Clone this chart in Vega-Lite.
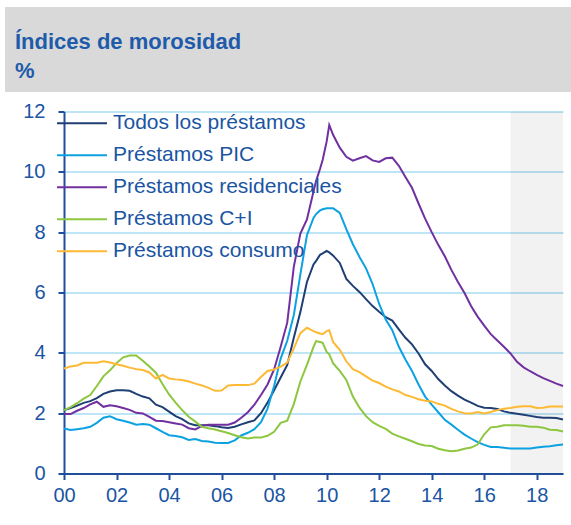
{
  "$schema": "https://vega.github.io/schema/vega-lite/v6.json",
  "background": "white",
  "padding": {"left": 5, "top": 7, "right": 0, "bottom": 0},
  "autosize": {"type": "pad"},
  "config": {"view": {"stroke": null}, "font": "Liberation Sans"},
  "spacing": 9.5,
  "vconcat": [
    {
      "width": 566,
      "height": 85,
      "view": {"fill": "#D9D9D9", "stroke": null},
      "data": {"values": [{"k": 1}]},
      "mark": {"type": "rect", "fill": "#D9D9D9"},
      "title": {
        "text": "Índices de morosidad",
        "subtitle": "%",
        "anchor": "start",
        "orient": "top",
        "frame": "group",
        "offset": -76,
        "dx": 10,
        "font": "Liberation Sans",
        "fontSize": 22,
        "fontWeight": "bold",
        "color": "#1E5BAA",
        "subtitleFont": "Liberation Sans",
        "subtitleFontSize": 22,
        "subtitleFontWeight": "bold",
        "subtitleColor": "#1E5BAA",
        "subtitlePadding": 7
      }
    },
    {
      "spacing": 0,
      "hconcat": [
        {
          "width": 1,
          "height": 1,
          "data": {"values": []},
          "mark": {"type": "point", "opacity": 0}
        },
        {
          "width": 499,
          "height": 362,
          "layer": [
            {
              "data": {"values": [{"inicio": 2017, "fin": 2019}]},
              "mark": {"type": "rect", "fill": "#000000", "opacity": 0.05},
              "encoding": {
                "x": {"field": "inicio", "type": "quantitative", "scale": {"domain": [2000, 2019]}},
                "x2": {"field": "fin"}
              }
            },
            {
              "data": {"values": [
                {"t": 2000.00, "todos": 2.10, "pic": 1.49, "res": 1.97, "ci": 2.10, "cons": 3.48},
                {"t": 2000.25, "todos": 2.17, "pic": 1.44, "res": 1.97, "ci": 2.20, "cons": 3.55},
                {"t": 2000.50, "todos": 2.25, "pic": 1.47, "res": 2.08, "ci": 2.33, "cons": 3.58},
                {"t": 2000.75, "todos": 2.34, "pic": 1.50, "res": 2.17, "ci": 2.48, "cons": 3.67},
                {"t": 2001.00, "todos": 2.40, "pic": 1.55, "res": 2.29, "ci": 2.60, "cons": 3.67},
                {"t": 2001.25, "todos": 2.50, "pic": 1.68, "res": 2.38, "ci": 2.90, "cons": 3.67},
                {"t": 2001.50, "todos": 2.64, "pic": 1.85, "res": 2.21, "ci": 3.22, "cons": 3.72},
                {"t": 2001.75, "todos": 2.72, "pic": 1.90, "res": 2.26, "ci": 3.42, "cons": 3.68},
                {"t": 2002.00, "todos": 2.76, "pic": 1.80, "res": 2.23, "ci": 3.66, "cons": 3.62},
                {"t": 2002.25, "todos": 2.76, "pic": 1.75, "res": 2.17, "ci": 3.85, "cons": 3.57},
                {"t": 2002.50, "todos": 2.74, "pic": 1.69, "res": 2.11, "ci": 3.91, "cons": 3.51},
                {"t": 2002.75, "todos": 2.64, "pic": 1.62, "res": 2.01, "ci": 3.91, "cons": 3.46},
                {"t": 2003.00, "todos": 2.55, "pic": 1.64, "res": 1.99, "ci": 3.74, "cons": 3.43},
                {"t": 2003.25, "todos": 2.49, "pic": 1.62, "res": 1.88, "ci": 3.55, "cons": 3.35},
                {"t": 2003.50, "todos": 2.28, "pic": 1.50, "res": 1.75, "ci": 3.34, "cons": 3.15},
                {"t": 2003.75, "todos": 2.20, "pic": 1.38, "res": 1.74, "ci": 2.97, "cons": 3.27},
                {"t": 2004.00, "todos": 2.05, "pic": 1.27, "res": 1.70, "ci": 2.62, "cons": 3.15},
                {"t": 2004.25, "todos": 1.90, "pic": 1.24, "res": 1.66, "ci": 2.35, "cons": 3.12},
                {"t": 2004.50, "todos": 1.80, "pic": 1.20, "res": 1.62, "ci": 2.10, "cons": 3.10},
                {"t": 2004.75, "todos": 1.66, "pic": 1.11, "res": 1.50, "ci": 1.88, "cons": 3.05},
                {"t": 2005.00, "todos": 1.60, "pic": 1.14, "res": 1.46, "ci": 1.72, "cons": 2.98},
                {"t": 2005.25, "todos": 1.60, "pic": 1.08, "res": 1.58, "ci": 1.55, "cons": 2.92},
                {"t": 2005.50, "todos": 1.60, "pic": 1.06, "res": 1.62, "ci": 1.50, "cons": 2.84},
                {"t": 2005.75, "todos": 1.57, "pic": 1.02, "res": 1.62, "ci": 1.46, "cons": 2.74},
                {"t": 2006.00, "todos": 1.53, "pic": 1.01, "res": 1.62, "ci": 1.40, "cons": 2.75},
                {"t": 2006.25, "todos": 1.51, "pic": 1.01, "res": 1.62, "ci": 1.34, "cons": 2.92},
                {"t": 2006.50, "todos": 1.55, "pic": 1.10, "res": 1.69, "ci": 1.27, "cons": 2.93},
                {"t": 2006.75, "todos": 1.63, "pic": 1.26, "res": 1.85, "ci": 1.20, "cons": 2.93},
                {"t": 2007.00, "todos": 1.70, "pic": 1.35, "res": 2.03, "ci": 1.16, "cons": 2.93},
                {"t": 2007.25, "todos": 1.76, "pic": 1.47, "res": 2.28, "ci": 1.19, "cons": 2.98},
                {"t": 2007.50, "todos": 2.00, "pic": 1.70, "res": 2.60, "ci": 1.19, "cons": 3.20},
                {"t": 2007.75, "todos": 2.35, "pic": 2.15, "res": 2.95, "ci": 1.25, "cons": 3.40},
                {"t": 2008.00, "todos": 2.76, "pic": 2.90, "res": 3.45, "ci": 1.38, "cons": 3.45},
                {"t": 2008.25, "todos": 3.18, "pic": 3.81, "res": 4.20, "ci": 1.68, "cons": 3.54},
                {"t": 2008.50, "todos": 3.60, "pic": 4.40, "res": 5.00, "ci": 1.75, "cons": 3.68},
                {"t": 2008.75, "todos": 4.50, "pic": 5.25, "res": 6.85, "ci": 2.30, "cons": 4.15},
                {"t": 2009.00, "todos": 5.35, "pic": 6.60, "res": 7.95, "ci": 3.05, "cons": 4.65},
                {"t": 2009.25, "todos": 6.35, "pic": 7.90, "res": 8.42, "ci": 3.60, "cons": 4.83},
                {"t": 2009.50, "todos": 6.93, "pic": 8.47, "res": 9.35, "ci": 4.20, "cons": 4.72},
                {"t": 2009.60, "todos": 7.05, "pic": 8.60, "res": 9.70, "ci": 4.39, "cons": 4.68},
                {"t": 2009.75, "todos": 7.25, "pic": 8.72, "res": 10.10, "ci": 4.36, "cons": 4.64},
                {"t": 2009.85, "todos": 7.30, "pic": 8.76, "res": 10.40, "ci": 4.33, "cons": 4.62},
                {"t": 2010.00, "todos": 7.38, "pic": 8.79, "res": 11.00, "ci": 4.03, "cons": 4.72},
                {"t": 2010.10, "todos": 7.33, "pic": 8.79, "res": 11.55, "ci": 3.95, "cons": 4.75},
                {"t": 2010.25, "todos": 7.22, "pic": 8.79, "res": 11.22, "ci": 3.65, "cons": 4.35},
                {"t": 2010.50, "todos": 6.98, "pic": 8.64, "res": 10.80, "ci": 3.40, "cons": 4.10},
                {"t": 2010.75, "todos": 6.45, "pic": 8.10, "res": 10.50, "ci": 3.10, "cons": 3.72},
                {"t": 2011.00, "todos": 6.22, "pic": 7.60, "res": 10.37, "ci": 2.55, "cons": 3.46},
                {"t": 2011.25, "todos": 6.02, "pic": 7.18, "res": 10.45, "ci": 2.18, "cons": 3.36},
                {"t": 2011.50, "todos": 5.78, "pic": 6.80, "res": 10.52, "ci": 1.90, "cons": 3.22},
                {"t": 2011.75, "todos": 5.55, "pic": 6.28, "res": 10.38, "ci": 1.70, "cons": 3.08},
                {"t": 2012.00, "todos": 5.36, "pic": 5.62, "res": 10.33, "ci": 1.58, "cons": 3.00},
                {"t": 2012.25, "todos": 5.18, "pic": 5.10, "res": 10.45, "ci": 1.48, "cons": 2.88},
                {"t": 2012.50, "todos": 5.07, "pic": 4.75, "res": 10.47, "ci": 1.32, "cons": 2.79},
                {"t": 2012.75, "todos": 4.78, "pic": 4.20, "res": 10.20, "ci": 1.23, "cons": 2.72},
                {"t": 2013.00, "todos": 4.50, "pic": 3.78, "res": 9.83, "ci": 1.15, "cons": 2.60},
                {"t": 2013.25, "todos": 4.28, "pic": 3.40, "res": 9.47, "ci": 1.07, "cons": 2.54},
                {"t": 2013.50, "todos": 3.98, "pic": 2.95, "res": 8.95, "ci": 0.98, "cons": 2.46},
                {"t": 2013.75, "todos": 3.62, "pic": 2.55, "res": 8.45, "ci": 0.93, "cons": 2.41},
                {"t": 2014.00, "todos": 3.40, "pic": 2.28, "res": 8.00, "ci": 0.91, "cons": 2.39},
                {"t": 2014.25, "todos": 3.13, "pic": 2.03, "res": 7.58, "ci": 0.82, "cons": 2.31},
                {"t": 2014.50, "todos": 2.92, "pic": 1.78, "res": 7.20, "ci": 0.77, "cons": 2.25},
                {"t": 2014.75, "todos": 2.73, "pic": 1.62, "res": 6.75, "ci": 0.74, "cons": 2.14},
                {"t": 2015.00, "todos": 2.58, "pic": 1.45, "res": 6.35, "ci": 0.76, "cons": 2.06},
                {"t": 2015.25, "todos": 2.45, "pic": 1.29, "res": 5.98, "ci": 0.82, "cons": 2.00},
                {"t": 2015.50, "todos": 2.35, "pic": 1.16, "res": 5.55, "ci": 0.86, "cons": 1.99},
                {"t": 2015.75, "todos": 2.24, "pic": 1.04, "res": 5.20, "ci": 0.96, "cons": 2.04},
                {"t": 2016.00, "todos": 2.18, "pic": 0.95, "res": 4.90, "ci": 1.30, "cons": 1.99},
                {"t": 2016.25, "todos": 2.17, "pic": 0.88, "res": 4.62, "ci": 1.53, "cons": 2.04},
                {"t": 2016.50, "todos": 2.14, "pic": 0.88, "res": 4.41, "ci": 1.55, "cons": 2.10},
                {"t": 2016.75, "todos": 2.06, "pic": 0.85, "res": 4.20, "ci": 1.60, "cons": 2.15},
                {"t": 2017.00, "todos": 2.01, "pic": 0.83, "res": 3.98, "ci": 1.60, "cons": 2.17},
                {"t": 2017.25, "todos": 1.98, "pic": 0.83, "res": 3.70, "ci": 1.60, "cons": 2.21},
                {"t": 2017.50, "todos": 1.95, "pic": 0.83, "res": 3.52, "ci": 1.58, "cons": 2.23},
                {"t": 2017.75, "todos": 1.91, "pic": 0.83, "res": 3.39, "ci": 1.55, "cons": 2.23},
                {"t": 2018.00, "todos": 1.87, "pic": 0.86, "res": 3.27, "ci": 1.55, "cons": 2.17},
                {"t": 2018.25, "todos": 1.85, "pic": 0.89, "res": 3.16, "ci": 1.52, "cons": 2.18},
                {"t": 2018.50, "todos": 1.85, "pic": 0.90, "res": 3.07, "ci": 1.45, "cons": 2.22},
                {"t": 2018.75, "todos": 1.84, "pic": 0.94, "res": 2.98, "ci": 1.44, "cons": 2.22},
                {"t": 2019.00, "todos": 1.79, "pic": 0.96, "res": 2.90, "ci": 1.39, "cons": 2.22}
              ]},
              "transform": [
                {"fold": ["todos", "pic", "res", "ci", "cons"], "as": ["serie", "valor"]}
              ],
              "mark": {"type": "line", "strokeWidth": 2},
              "encoding": {
                "x": {
                  "field": "t",
                  "type": "quantitative",
                  "scale": {"domain": [2000, 2019], "nice": false, "zero": false},
                  "axis": {
                    "title": null,
                    "values": [2000, 2002, 2004, 2006, 2008, 2010, 2012, 2014, 2016, 2018],
                    "format": "d",
                    "labelExpr": "substring(datum.label, 2, 4)",
                    "grid": false,
                    "domainColor": "#1F4E9C",
                    "domainWidth": 2,
                    "tickColor": "#1F4E9C",
                    "tickWidth": 2,
                    "tickSize": 6,
                    "labelColor": "#1A55A3",
                    "labelFont": "Liberation Sans",
                    "labelFontSize": 20,
                    "labelPadding": 6,
                    "labelFlush": false,
                    "labelOverlap": false
                  }
                },
                "y": {
                  "field": "valor",
                  "type": "quantitative",
                  "scale": {"domain": [0, 12], "nice": false},
                  "axis": {
                    "title": null,
                    "values": [0, 2, 4, 6, 8, 10, 12],
                    "grid": true,
                    "gridColor": "#BDE5F5",
                    "gridWidth": 2,
                    "domainColor": "#1F4E9C",
                    "domainWidth": 2,
                    "tickColor": "#1F4E9C",
                    "tickWidth": 2,
                    "tickSize": 6,
                    "labelColor": "#1A55A3",
                    "labelFont": "Liberation Sans",
                    "labelFontSize": 20,
                    "labelPadding": 13,
                    "minExtent": 57.3,
                    "maxExtent": 57.3
                  }
                },
                "color": {
                  "field": "serie",
                  "type": "nominal",
                  "scale": {
                    "domain": ["todos", "pic", "res", "ci", "cons"],
                    "range": ["#1F3F73", "#0CA2E2", "#7030A0", "#8DC63F", "#FDB933"]
                  },
                  "legend": {
                    "orient": "none",
                    "legendX": 51,
                    "legendY": 105.8,
                    "title": null,
                    "padding": 0,
                    "symbolType": "stroke",
                    "symbolSize": 2500,
                    "symbolStrokeWidth": 2,
                    "labelFont": "Liberation Sans",
                    "labelFontSize": 21,
                    "labelColor": "#1A55A3",
                    "labelOffset": 5,
                    "labelLimit": 400,
                    "clipHeight": 21,
                    "rowPadding": 10,
                    "labelExpr": "datum.value == 'todos' ? 'Todos los préstamos' : datum.value == 'pic' ? 'Préstamos PIC' : datum.value == 'res' ? 'Préstamos residenciales' : datum.value == 'ci' ? 'Préstamos C+I' : 'Préstamos consumo'"
                  }
                }
              }
            }
          ]
        }
      ]
    }
  ]
}
